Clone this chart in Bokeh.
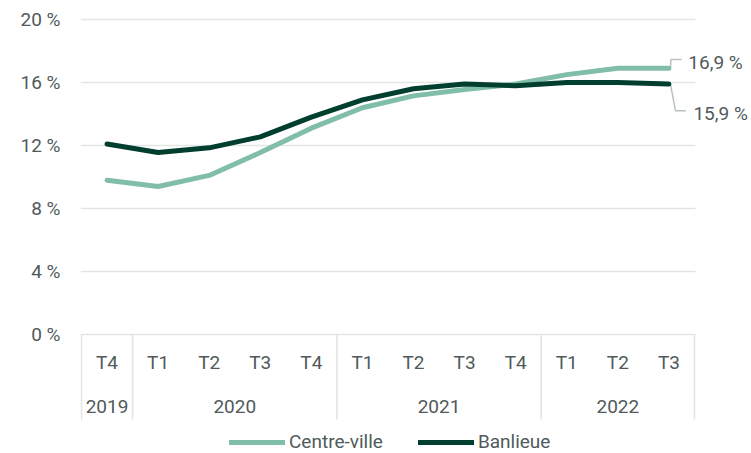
from bokeh.plotting import figure
from bokeh.models import Range1d, FixedTicker, Label, Legend, LegendItem
from bokeh.core.properties import value
from bokeh.embed import file_html
from bokeh.resources import INLINE

# ---- data ----
years = ["2019", "2020", "2020", "2020", "2020", "2021", "2021", "2021", "2021", "2022", "2022", "2022"]
quarters = ["T4", "T1", "T2", "T3", "T4", "T1", "T2", "T3", "T4", "T1", "T2", "T3"]
centre_ville = [9.8, 9.4, 10.1, 11.55, 13.1, 14.4, 15.15, 15.55, 15.9, 16.5, 16.9, 16.9]
banlieue = [12.1, 11.55, 11.85, 12.55, 13.8, 14.9, 15.6, 15.9, 15.8, 16.0, 16.0, 15.9]
y_ticks = [0, 4, 8, 12, 16, 20]
y_tick_labels = ["0 %", "4 %", "8 %", "12 %", "16 %", "20 %"]
series_names = ["Centre-ville", "Banlieue"]

# ---- style ----
FONT = "Roboto"
TXT = "#505a5a"
GRID = "#e1e5e4"
LEAD = "#b8c2c0"
C_LIGHT = "#80bea9"
C_DARK = "#003f2d"

n = len(quarters)
xs = [i + 0.5 for i in range(n)]

# group boundaries and centers
bounds = [0]
groups = []
start = 0
for i in range(1, n + 1):
    if i == n or years[i] != years[start]:
        groups.append((years[start], (start + i) / 2))
        bounds.append(i)
        start = i

pad = 1 / 51.08
p = figure(width=751, height=453, output_backend="svg", toolbar_location=None,
           x_range=Range1d(-pad, 13.117), y_range=Range1d(-7.556, 20.127),
           min_border_left=80, min_border_right=0, min_border_top=17, min_border_bottom=0,
           x_axis_location=None)
p.outline_line_color = None
p.xgrid.visible = False
p.ygrid.visible = False

ax = p.yaxis[0]
ax.ticker = FixedTicker(ticks=y_ticks)
ax.major_label_overrides = {t: l for t, l in zip(y_ticks, y_tick_labels)}
ax.axis_line_color = None
ax.major_tick_line_color = None
ax.minor_tick_line_color = None
ax.major_tick_out = 0
ax.major_tick_in = 0
ax.major_label_standoff = 20
ax.major_label_text_font = FONT
ax.major_label_text_font_size = "19px"
ax.major_label_text_color = TXT

# horizontal grid lines limited to the category area
p.segment(x0=[-pad] * len(y_ticks), y0=y_ticks, x1=[n + pad] * len(y_ticks), y1=y_ticks,
          line_color=GRID, line_width=1.6)

# separators of the category axis box
sep_bottom = -5.40
p.segment(x0=bounds, y0=[0] * len(bounds), x1=bounds, y1=[sep_bottom] * len(bounds),
          line_color=GRID, line_width=1.6)

# quarter labels and year labels
p.text(x=xs, y=[-1.78] * n, text=quarters, text_align="center", text_baseline="middle",
       text_font=value(FONT), text_font_size="19px", text_color=TXT)
p.text(x=[g[1] for g in groups], y=[-4.57] * len(groups), text=[g[0] for g in groups],
       text_align="center", text_baseline="middle",
       text_font=value(FONT), text_font_size="19px", text_color=TXT)

# leader lines for end labels
xe = xs[-1]
cv_end = centre_ville[-1]
bl_end = banlieue[-1]
p.line(x=[xe + 0.03, xe + 0.04, xe + 0.25], y=[cv_end, cv_end + 0.56, cv_end + 0.56],
       line_color=LEAD, line_width=1.5)
p.line(x=[xe + 0.03, xe + 0.13, xe + 0.33], y=[bl_end, bl_end - 1.7, bl_end - 1.7],
       line_color=LEAD, line_width=1.5)

# series
r1 = p.line(x=xs, y=centre_ville, line_color=C_LIGHT, line_width=5,
            line_cap="round", line_join="round")
r2 = p.line(x=xs, y=banlieue, line_color=C_DARK, line_width=5,
            line_cap="round", line_join="round")

def fmt(v):
    return f"{v:.1f} %".replace(".", ",")

p.add_layout(Label(x=xe + 0.38, y=cv_end + 0.37, text=fmt(cv_end), text_baseline="middle",
                   text_font=FONT, text_font_size="19px", text_color=TXT))
p.add_layout(Label(x=xe + 0.48, y=bl_end - 1.88, text=fmt(bl_end), text_baseline="middle",
                   text_font=FONT, text_font_size="19px", text_color=TXT))

legend = Legend(items=[LegendItem(label=series_names[0], renderers=[r1]),
                       LegendItem(label=series_names[1], renderers=[r2])],
                orientation="horizontal", location=(149, 0),
                glyph_width=56, glyph_height=18, label_standoff=4, spacing=35,
                padding=0, margin=0, border_line_alpha=0, background_fill_alpha=0,
                label_text_font=FONT, label_text_font_size="19px", label_text_color=TXT,
                label_height=18)
p.add_layout(legend, "center")

open("out.html", "w").write(file_html(p, INLINE))
